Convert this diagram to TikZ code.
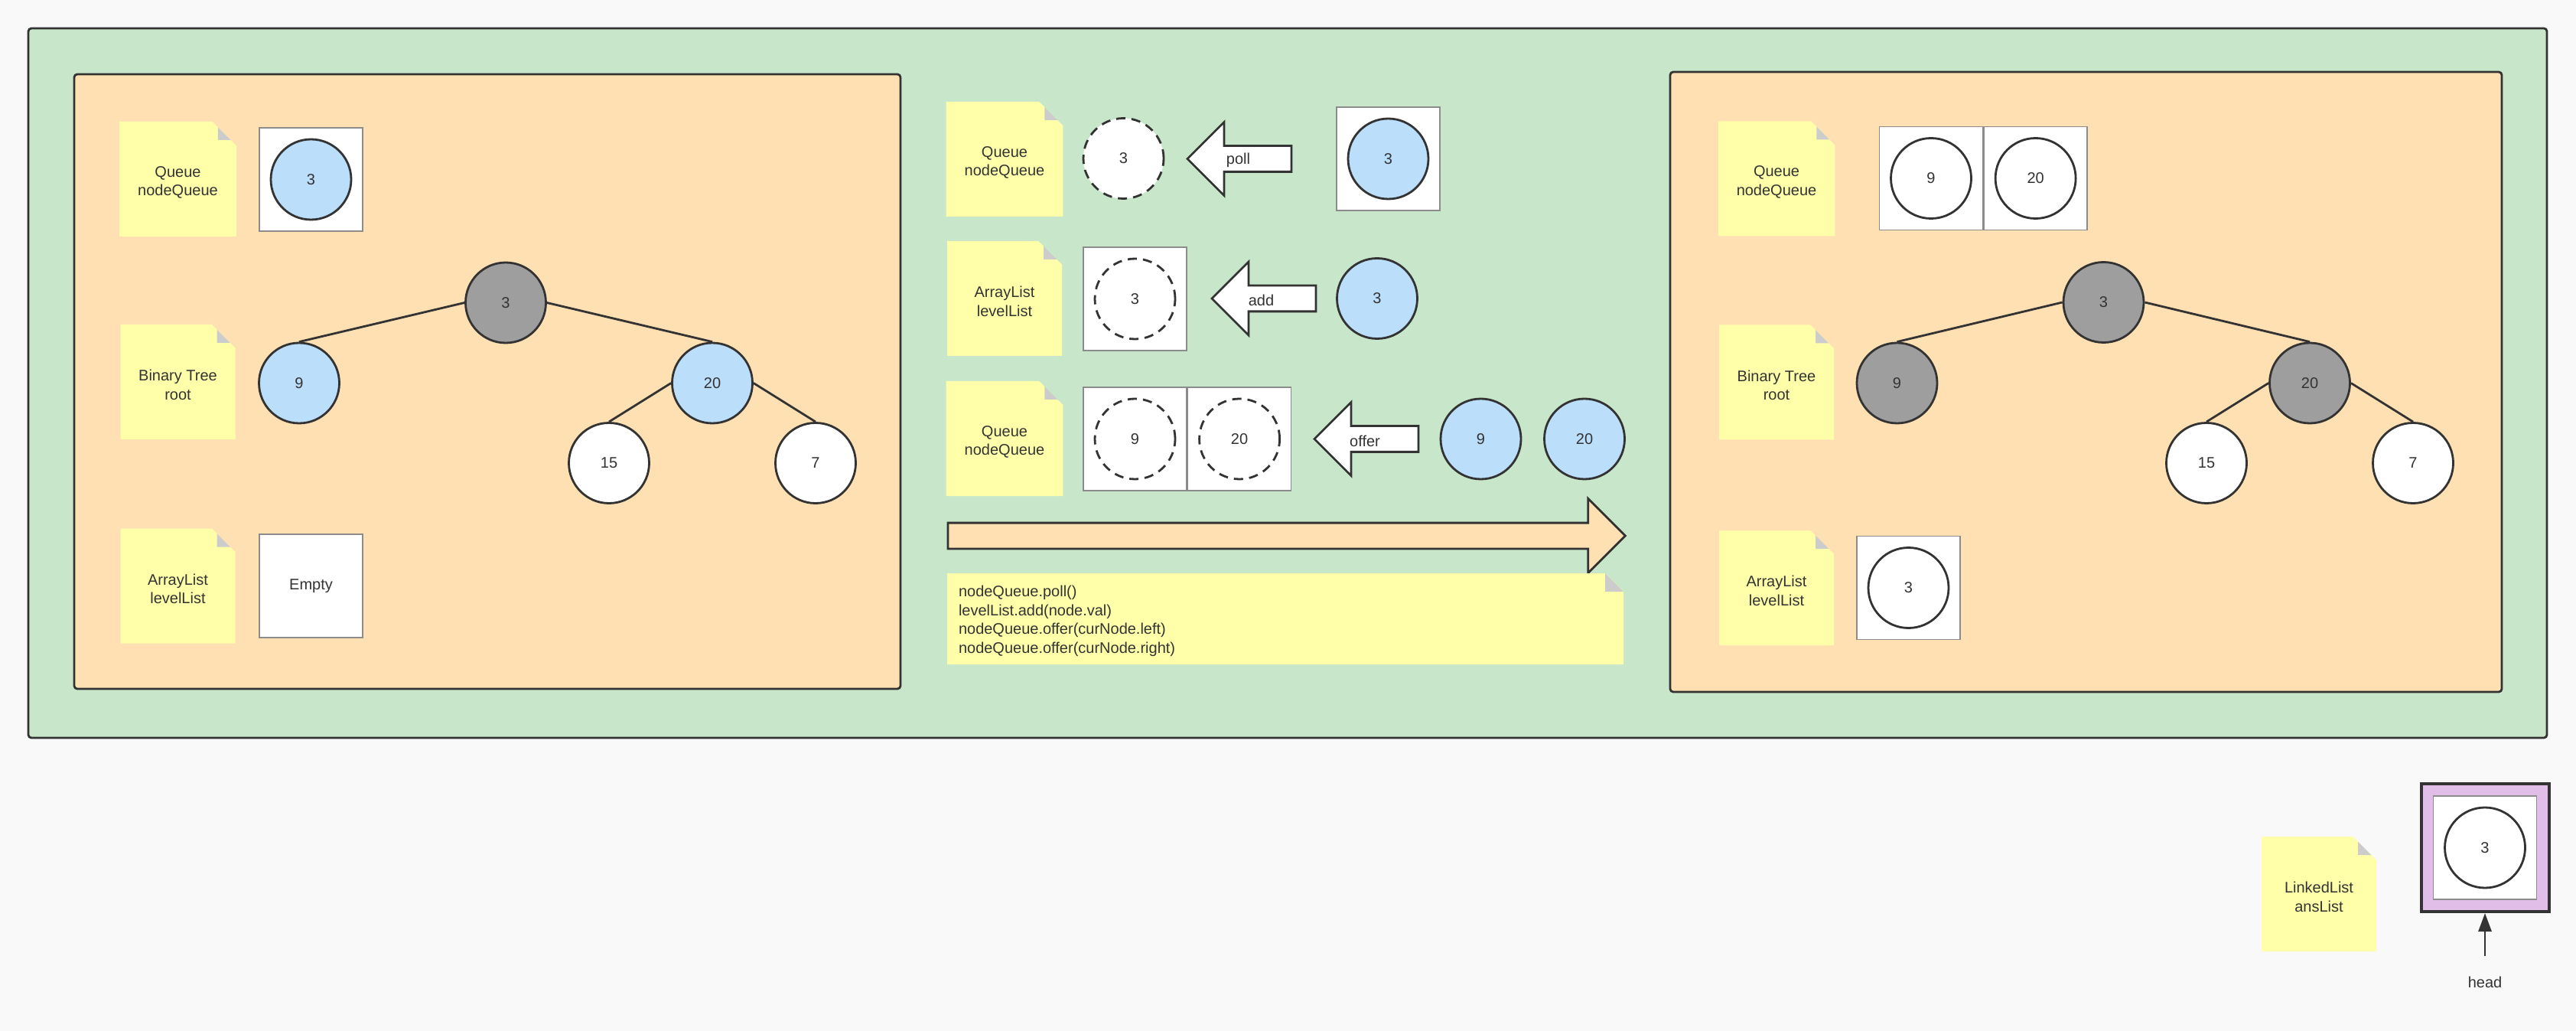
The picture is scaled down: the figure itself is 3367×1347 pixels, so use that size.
\documentclass[tikz,border=0pt]{standalone}
\usepackage{fontspec}
\setmainfont{Liberation Sans}
\usetikzlibrary{positioning, shapes.misc, shapes.arrows, arrows.meta}

\definecolor{bggray}{HTML}{F9F9F9}
\definecolor{greenfill}{HTML}{C8E6C9}
\definecolor{orangefill}{HTML}{FFE0B2}
\definecolor{bluefill}{HTML}{BBDEFB}
\definecolor{visited}{HTML}{9E9E9E}
\definecolor{noteyellow}{HTML}{FFFFAA}
\definecolor{foldgray}{HTML}{CCCCCC}
\definecolor{purplefill}{HTML}{E1BEE7}
\definecolor{linedark}{HTML}{333333}
\definecolor{cellgray}{HTML}{8C8C8C}

\begin{document}
\begin{tikzpicture}[x=0.5pt, y=-0.5pt,
    every node/.style={font=\fontsize{10}{12.25}\selectfont, text=linedark},
    panel/.style={draw=linedark, line width=1.4pt, rounded corners=2pt},
    note/.style={chamfered rectangle, chamfered rectangle corners=north east,
        chamfered rectangle xsep=12pt, fill=noteyellow, minimum width=75pt,
        minimum height=75pt, inner sep=0pt, align=center,
        execute at begin node={\rule{0pt}{23.5pt}},
        path picture={\fill[foldgray] ([xshift=-12pt]path picture bounding box.north east)
            -- ([xshift=-12pt,yshift=-12pt]path picture bounding box.north east)
            -- ([yshift=-12pt]path picture bounding box.north east) -- cycle;}},
    cell/.style={draw=cellgray, fill=white, line width=0.8pt, minimum size=67.5pt, inner sep=0pt},
    tnode/.style={circle, draw=linedark, fill=white, line width=1.4pt, minimum size=52.5pt, inner sep=0pt},
    ghost/.style={tnode, dash pattern=on 6pt off 4pt},
    blockarrow/.style={single arrow, draw=linedark, fill=white, line width=1.4pt,
        inner xsep=0pt, inner ysep=0pt, text height=11pt, text depth=4.5pt,
        single arrow head extend=15.5pt, minimum height=68pt},
    branch/.style={draw=linedark, line width=1.4pt}
]
\useasboundingbox (0,0) rectangle (3367,1347);
\fill[bggray] (0,0) rectangle (3367,1347);
\draw[panel, fill=greenfill] (37,37) rectangle (3329,964);
\draw[panel, fill=orangefill] (97,97) rectangle (1177,900);
\draw[panel, fill=orangefill] (2183,94) rectangle (3270,904);

\node[note] (qnoteL) at (232.5,234) {Queue\\nodeQueue};
\node[note] (bnoteL) at (232.5,499) {Binary Tree\\root};
\node[note] (anoteL) at (232.5,765.5) {ArrayList\\levelList};
\node[cell] (qcellL) at (406.5,234.5) {};
\node[tnode, fill=bluefill] (q3L) at (qcellL) {3};
\node[cell] (emptyL) at (406.5,765.5) {Empty};

\node[tnode, fill=visited] (rootL) at (661,395.5) {3};
\node[tnode, fill=bluefill] (n9L) at (391,500.5) {9};
\node[tnode, fill=bluefill] (n20L) at (931,500.5) {20};
\node[tnode] (n15L) at (796,605) {15};
\node[tnode] (n7L) at (1066,605) {7};
\draw[branch] (rootL.west) -- (n9L.north);
\draw[branch] (rootL.east) -- (n20L.north);
\draw[branch] (n20L.west) -- (n15L.north);
\draw[branch] (n20L.east) -- (n7L.north);

\node[note] (qnoteM) at (1313,208) {Queue\\nodeQueue};
\node[note] (anoteM) at (1313,390) {ArrayList\\levelList};
\node[note] (onoteM) at (1313,573) {Queue\\nodeQueue};
\node[ghost] (g3M) at (1468.5,207) {3};
\node[blockarrow, shape border rotate=180, anchor=tip] (pollarrow) at (1550,207.5) {};
\node (poll) at (1618.5,209) {poll};
\node[cell] (qcellM) at (1814.5,207.5) {};
\node[tnode, fill=bluefill] (q3M) at (qcellM) {3};
\node[cell] (lcellM) at (1483.5,390.5) {};
\node[ghost] (l3M) at (lcellM) {3};
\node[blockarrow, shape border rotate=180, anchor=tip] (addarrow) at (1582,390) {};
\node (add) at (1648.5,392) {add};
\node[tnode, fill=bluefill] (a3M) at (1800,390) {3};
\node[cell] (c9M) at (1483.5,573.5) {};
\node[cell, right=0pt of c9M] (c20M) {};
\node[ghost] (g9M) at (c9M) {9};
\node[ghost] (g20M) at (c20M) {20};
\node[blockarrow, shape border rotate=180, anchor=tip] (offerarrow) at (1716,573.5) {};
\node (offer) at (1784,576) {offer};
\node[tnode, fill=bluefill] (o9M) at (1935.5,573.5) {9};
\node[tnode, fill=bluefill] (o20M) at (2071,573.5) {20};
\node[blockarrow, fill=orangefill, minimum height=442.75pt, single arrow head extend=15.9pt, anchor=tail] (stepover) at (1237.5,700) {};
\node[note, minimum width=442pt, minimum height=59.5pt, execute at begin node={}] (code) at (1680,808.5) {};
\node[anchor=west, align=left, inner sep=0pt, yshift=-1.5pt] (codetext) at ([xshift=7.5pt]code.west)
    {nodeQueue.poll()\\levelList.add(node.val)\\nodeQueue.offer(curNode.left)\\nodeQueue.offer(curNode.right)};

\node[note] (qnoteR) at (2322,233.5) {Queue\\nodeQueue};
\node[note] (bnoteR) at (2322,499.5) {Binary Tree\\root};
\node[note] (anoteR) at (2322,768) {ArrayList\\levelList};
\node[cell] (c9R) at (2524,233) {};
\node[cell, right=0pt of c9R] (c20R) {};
\node[tnode] (q9R) at (c9R) {9};
\node[tnode] (q20R) at (c20R) {20};
\node[cell] (lcellR) at (2494.5,768) {};
\node[tnode] (l3R) at (lcellR) {3};

\node[tnode, fill=visited] (rootR) at (2749.5,395) {3};
\node[tnode, fill=visited] (n9R) at (2479.5,500.5) {9};
\node[tnode, fill=visited] (n20R) at (3019,500.5) {20};
\node[tnode] (n15R) at (2884,605) {15};
\node[tnode] (n7R) at (3154,605) {7};
\draw[branch] (rootR.west) -- (n9R.north);
\draw[branch] (rootR.east) -- (n20R.north);
\draw[branch] (n20R.west) -- (n15R.north);
\draw[branch] (n20R.east) -- (n7R.north);

\node[note] (ansnote) at (3031,1168) {LinkedList\\ansList};
\node[draw=linedark, line width=2pt, fill=purplefill, minimum size=83.5pt, inner sep=0pt] (ansbox) at (3248,1107.5) {};
\node[cell] (anscell) at (ansbox) {};
\node[tnode] (ans3) at (anscell) {3};
\node (headlbl) at (3248,1283) {head};
\coordinate (headtail) at (3248,1249);
\draw[branch, -{Triangle[length=12pt,width=8.5pt]}] (headtail) -- (ansbox.south);
\end{tikzpicture}
\end{document}
